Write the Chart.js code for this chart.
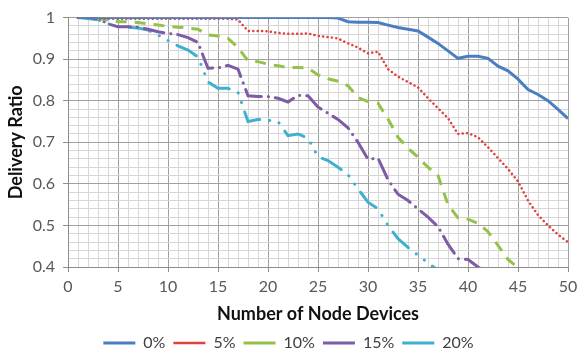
<!DOCTYPE html>
<html>
<head>
<meta charset="utf-8">
<script src="https://cdn.jsdelivr.net/npm/chart.js@4.4.1/dist/chart.umd.min.js"></script>
<style>
  html, body { margin: 0; padding: 0; background: #fff; }
  #wrap { width: 577px; height: 351px; }
</style>
</head>
<body>
<div id="wrap"><canvas id="chart"></canvas></div>
<script>
// number of node devices
const nodeCounts = [1, 2, 3, 4, 5, 6, 7, 8, 9, 10, 11, 12, 13, 14, 15, 16, 17, 18, 19, 20,
    21, 22, 23, 24, 25, 26, 27, 28, 29, 30, 31, 32, 33, 34, 35, 36, 37, 38, 39, 40,
    41, 42, 43, 44, 45, 46, 47, 48, 49, 50];

const seriesNames = ['0%', '5%', '10%', '15%', '20%'];

// delivery ratio per loss rate
const ratio0 = [1, 1, 1, 1, 1, 1, 1, 1, 1, 1, 1, 1, 1, 1, 1, 1, 1, 1, 1, 1,
    1, 1, 1, 1, 1, 1, 0.999, 0.99, 0.989, 0.989, 0.988, 0.982, 0.976, 0.972, 0.968, 0.953, 0.938, 0.92, 0.902, 0.907,
    0.907, 0.902, 0.883, 0.872, 0.852, 0.827, 0.815, 0.8, 0.779, 0.757];
const ratio5 = [1, 1, 0.997, 0.997, 0.997, 0.997, 0.997, 0.997, 0.997, 0.997, 0.997, 0.997, 0.997, 0.997, 0.997, 0.997, 0.995, 0.968, 0.968, 0.967,
    0.963, 0.961, 0.961, 0.962, 0.956, 0.953, 0.95, 0.938, 0.928, 0.914, 0.918, 0.876, 0.858, 0.845, 0.832, 0.806, 0.782, 0.758, 0.72, 0.722,
    0.712, 0.688, 0.662, 0.636, 0.606, 0.56, 0.525, 0.5, 0.478, 0.46];
const ratio10 = [1, 1, 0.998, 0.994, 0.99, 0.99, 0.988, 0.985, 0.982, 0.979, 0.977, 0.975, 0.972, 0.958, 0.956, 0.95, 0.928, 0.896, 0.894, 0.888,
    0.884, 0.88, 0.88, 0.879, 0.862, 0.853, 0.847, 0.836, 0.808, 0.798, 0.794, 0.756, 0.712, 0.686, 0.664, 0.64, 0.62, 0.55, 0.518, 0.515,
    0.505, 0.485, 0.452, 0.418, 0.398];
const ratio15 = [1, 1, 0.998, 0.985, 0.978, 0.978, 0.977, 0.972, 0.966, 0.962, 0.959, 0.952, 0.94, 0.878, 0.879, 0.885, 0.876, 0.812, 0.81, 0.81,
    0.806, 0.797, 0.813, 0.812, 0.785, 0.77, 0.755, 0.735, 0.7, 0.659, 0.662, 0.61, 0.575, 0.56, 0.54, 0.52, 0.497, 0.455, 0.42, 0.418,
    0.4, 0.385];
const ratio20 = [1, 0.998, 0.995, 0.985, 0.978, 0.977, 0.975, 0.97, 0.958, 0.945, 0.932, 0.922, 0.905, 0.845, 0.83, 0.83, 0.82, 0.75, 0.755, 0.753,
    0.75, 0.716, 0.72, 0.71, 0.665, 0.656, 0.64, 0.622, 0.588, 0.556, 0.54, 0.5, 0.468, 0.447, 0.428, 0.41, 0.392];

const xTicksMajor = 5;
const yTickLabels = ['0.4', '0.5', '0.6', '0.7', '0.8', '0.9', '1'];

const toPoints = (vals) => vals.map((v, i) => ({ x: nodeCounts[i], y: v }));

const isMajorY = (v) => Math.abs(v * 10 - Math.round(v * 10)) < 1e-6;
const isMajorX = (v) => Math.abs(v % xTicksMajor) < 1e-6;

const FONT = 'Lato, "Open Sans", sans-serif';

const ctx = document.getElementById('chart').getContext('2d');
new Chart(ctx, {
    type: 'line',
    data: {
        datasets: [
            { label: seriesNames[0], data: toPoints(ratio0), borderColor: '#4A7EC2', borderWidth: 3 },
            { label: seriesNames[1], data: toPoints(ratio5), borderColor: '#E2403C', borderWidth: 2.5,
              borderDash: [0.1, 4.3], borderCapStyle: 'round' },
            { label: seriesNames[2], data: toPoints(ratio10), borderColor: '#93C247', borderWidth: 3,
              borderDash: [11, 8] },
            { label: seriesNames[3], data: toPoints(ratio15), borderColor: '#7D5BA6', borderWidth: 3,
              borderDash: [20, 7, 0.1, 7], borderCapStyle: 'round' },
            { label: seriesNames[4], data: toPoints(ratio20), borderColor: '#3FB0D0', borderWidth: 3,
              borderDash: [22, 10, 0.1, 10, 0.1, 10], borderCapStyle: 'round' }
        ]
    },
    options: {
        responsive: true,
        maintainAspectRatio: false,
        animation: false,
        layout: { padding: { top: 16, right: 0, bottom: -10, left: 0 } },
        elements: {
            point: { radius: 0 },
            line: { tension: 0, fill: false }
        },
        scales: {
            x: {
                type: 'linear',
                min: 0,
                max: 50,
                ticks: {
                    stepSize: 1,
                    autoSkip: false,
                    maxRotation: 0,
                    padding: 5,
                    color: '#595959',
                    font: { family: FONT, size: 16 },
                    callback: (v) => isMajorX(v) ? String(v) : ''
                },
                grid: {
                    color: (c) => isMajorX(c.tick.value) ? '#a0a0a0' : '#d6d6d6',
                    tickColor: (c) => isMajorX(c.tick.value) ? '#8c8c8c' : 'rgba(0,0,0,0)',
                    tickLength: 5
                },
                border: { color: '#8c8c8c' },
                title: {
                    display: true,
                    text: 'Number of Node Devices',
                    color: '#111',
                    font: { family: FONT, size: 18, weight: 'bold' },
                    padding: { top: 2, bottom: 2 }
                },
                afterFit: (scale) => {
                    scale.height = 60;
                    scale.paddingLeft = 0;
                    scale.paddingRight = 9;
                }
            },
            y: {
                min: 0.4,
                max: 1,
                ticks: {
                    stepSize: 0.02,
                    autoSkip: false,
                    padding: 8,
                    color: '#595959',
                    font: { family: FONT, size: 16 },
                    callback: (v) => {
                        if (!isMajorY(v)) return '';
                        const k = Math.round(v * 10) - 4;
                        return yTickLabels[k];
                    }
                },
                grid: {
                    color: (c) => isMajorY(c.tick.value) ? '#a0a0a0' : '#d6d6d6',
                    tickColor: (c) => isMajorY(c.tick.value) ? '#8c8c8c' : 'rgba(0,0,0,0)',
                    tickLength: 5
                },
                border: { color: '#8c8c8c' },
                title: {
                    display: true,
                    text: 'Delivery Ratio',
                    color: '#111',
                    font: { family: FONT, size: 18, weight: 'bold' },
                    padding: { top: 5, bottom: 0 }
                },
                afterFit: (scale) => { scale.width = 68; }
            }
        },
        plugins: {
            legend: {
                position: 'bottom',
                labels: {
                    usePointStyle: true,
                    pointStyle: 'line',
                    pointStyleWidth: 32,
                    padding: 8,
                    color: '#404040',
                    font: { family: FONT, size: 16 }
                }
            },
            tooltip: { enabled: false }
        }
    }
});
</script>
</body>
</html>
